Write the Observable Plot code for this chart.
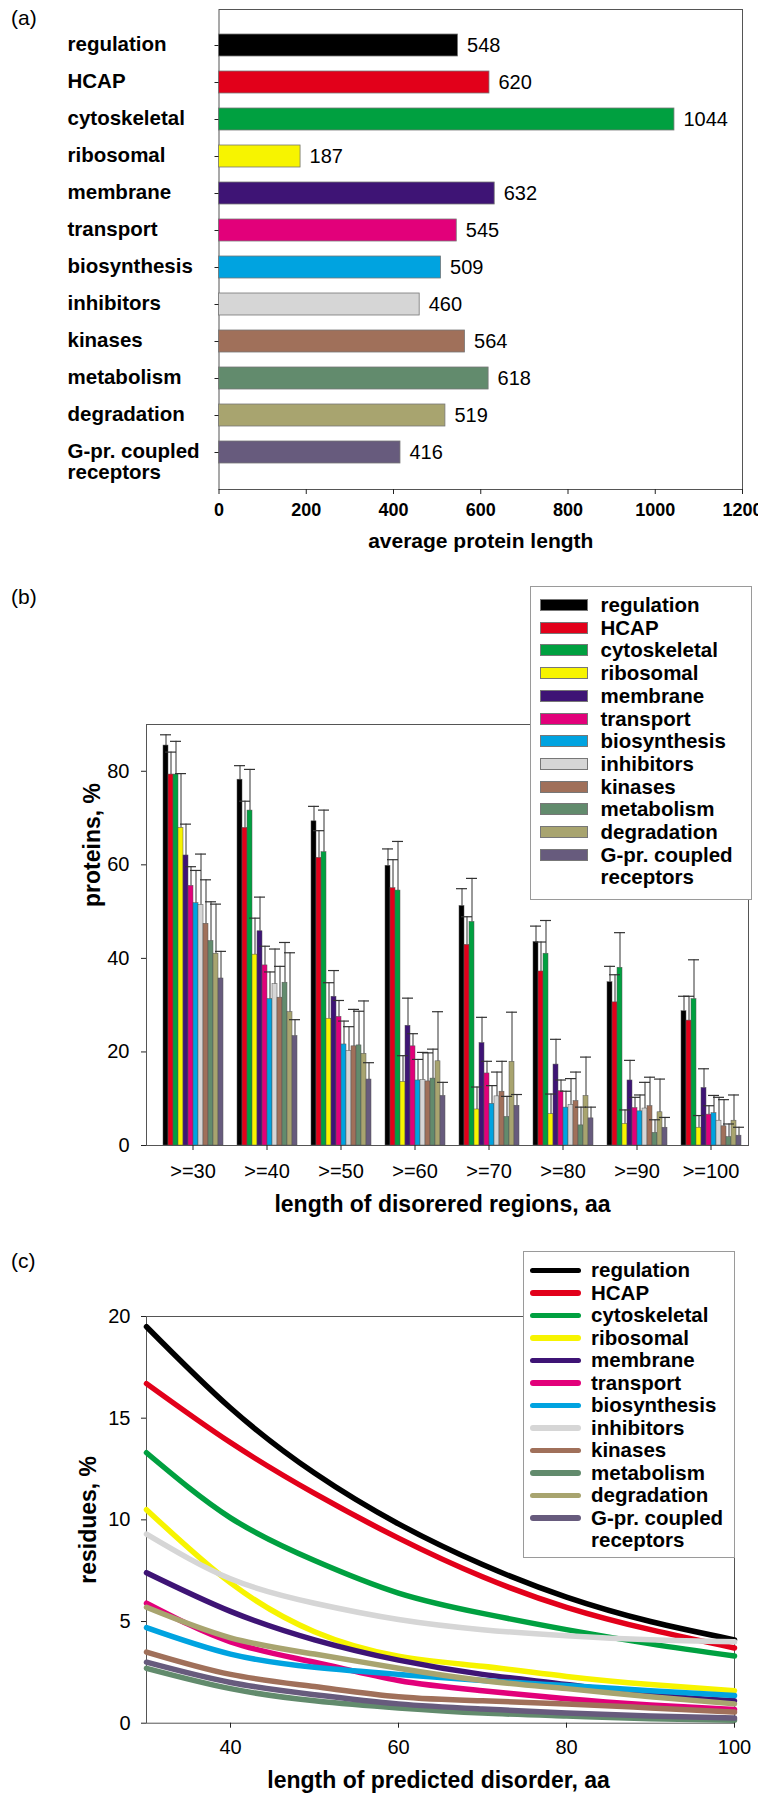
<!DOCTYPE html>
<html><head><meta charset="utf-8">
<script src="https://cdn.jsdelivr.net/npm/d3@7"></script>
<script src="https://cdn.jsdelivr.net/npm/@observablehq/plot@0.6"></script>
<style>
body{margin:0;background:#fff;}
#root{position:relative;width:758px;height:1794px;overflow:hidden;font-family:"Liberation Sans",Arial,sans-serif;color:#000;}
.abs{position:absolute;left:0;}
.plab{position:absolute;left:11px;font-size:21px;line-height:24px;}
.legend{position:absolute;background:#fff;border:1px solid #9a9a9a;box-sizing:border-box;}
.legend .row{position:absolute;height:22px;line-height:22px;font-weight:bold;font-size:20.5px;white-space:nowrap;}
.legend .sw{position:absolute;box-sizing:border-box;}
</style></head><body><div id="root"></div>
<script>
const FONT = '"Liberation Sans", Arial, sans-serif';
// ---- shared categories ----
const categories = ["regulation","HCAP","cytoskeletal","ribosomal","membrane","transport","biosynthesis","inhibitors","kinases","metabolism","degradation","G-pr. coupled receptors"];
const labels = ["regulation","HCAP","cytoskeletal","ribosomal","membrane","transport","biosynthesis","inhibitors","kinases","metabolism","degradation","G-pr. coupled\nreceptors"];
const colors = ["#000000","#e2001a","#00a040","#f7f400","#3e1475","#e2007a","#00a3e0","#d6d6d6","#a0705a","#628b6d","#a8a46f","#675b7d"];
// ---- panel (a) ----
const avgLength = [548,620,1044,187,632,545,509,460,564,618,519,416];
const aTicks = [0,200,400,600,800,1000,1200];
// ---- panel (b) ----
const groups = [">=30",">=40",">=50",">=60",">=70",">=80",">=90",">=100"];
const bValues = [
  [85.5,78.2,69.3,59.8,51.2,43.5,34.9,28.7],
  [79.3,67.9,61.5,55.0,42.9,37.2,30.6,26.7],
  [79.3,71.6,62.7,54.5,47.8,41.0,38.0,31.3],
  [67.9,40.8,27.1,13.6,7.7,6.7,4.6,3.8],
  [62.0,45.8,31.8,25.6,21.9,17.3,13.9,12.3],
  [55.5,38.5,27.5,21.2,15.4,11.6,8.0,6.6],
  [51.8,31.3,21.6,13.9,8.9,8.1,7.3,6.9],
  [51.4,34.5,20.2,14.0,10.5,8.7,7.9,5.3],
  [47.4,31.6,21.2,13.7,11.5,9.5,8.4,4.1],
  [43.7,34.8,21.4,14.3,6.1,4.3,2.7,1.8],
  [41.0,28.5,19.6,18.0,17.9,10.6,7.1,5.3],
  [35.7,23.4,14.1,10.6,8.5,5.8,3.8,2.1]
];
const bErrors = [
  [87.8,81.2,72.5,63.4,54.9,46.9,38.3,31.9],
  [84.1,73.6,67.3,61.1,48.9,43.5,36.5,31.9],
  [86.4,80.4,71.7,65.0,57.1,48.1,45.5,39.7],
  [79.5,48.6,34.8,19.2,12.5,11.0,7.6,6.4],
  [68.7,53.1,37.4,31.5,27.4,22.7,18.2,16.4],
  [59.6,42.6,31.0,23.9,18.0,14.0,10.3,8.5],
  [58.8,37.1,26.6,18.4,12.8,11.6,10.8,10.7],
  [62.3,42.0,25.4,19.9,15.7,14.3,13.5,10.3],
  [56.8,38.3,29.1,19.8,18.0,15.7,14.6,9.8],
  [52.1,43.4,28.7,20.6,10.5,8.2,5.5,4.6],
  [51.6,41.2,30.9,28.6,28.5,18.9,14.2,10.8],
  [41.5,26.9,17.7,13.5,10.9,8.2,6.0,3.9]
];
const bYTicks = [0,20,40,60,80];
// ---- panel (c) ----
const cX = [30,40,50,60,70,80,90,100];
const cValues = [
  [19.5,15.5,12.3,9.8,7.8,6.2,5.0,4.1],
  [16.7,13.8,11.3,9.1,7.2,5.7,4.6,3.7],
  [13.3,10.1,8.0,6.4,5.4,4.6,3.9,3.3],
  [10.5,6.9,4.5,3.3,2.8,2.3,1.9,1.6],
  [7.4,5.5,4.1,3.1,2.4,1.9,1.4,1.1],
  [5.9,4.0,3.0,2.1,1.6,1.2,0.9,0.67],
  [4.7,3.4,2.75,2.4,2.1,1.85,1.6,1.36],
  [9.3,7.1,5.9,5.1,4.6,4.3,4.1,4.0],
  [3.5,2.4,1.8,1.3,1.1,0.95,0.75,0.55],
  [2.7,1.7,1.1,0.75,0.5,0.35,0.22,0.15],
  [5.7,4.2,3.4,2.7,2.1,1.7,1.3,0.95],
  [3.0,2.0,1.4,0.95,0.7,0.5,0.35,0.25]
];
const cXTicks = [40,60,80,100];
const cYTicks = [0,5,10,15,20];

const root = document.getElementById("root");
function place(node, top){
  const d = document.createElement("div");
  d.className = "abs"; d.style.top = top + "px";
  d.appendChild(node); root.appendChild(d); return d;
}
function panelLabel(text, top){
  const d = document.createElement("div"); d.className = "plab"; d.style.top = top + "px"; d.textContent = text; root.appendChild(d);
}
const baseStyle = {fontFamily: FONT, fontSize: "20px", background: "transparent", color: "#222", overflow: "visible"};
const colorScale = {domain: categories, range: colors};
const plain = d => String(d);

// ===== Panel (a) =====
const aData = categories.map((c,i)=>({cat:c, label:labels[i], value:avgLength[i]}));
const plotA = Plot.plot({
  width: 758, height: 560,
  marginLeft: 218.5, marginRight: 16, marginTop: 9, marginBottom: 71,
  style: baseStyle,
  x: {domain: [0,1200]},
  y: {domain: categories, range: [27, 471], paddingInner: 0.4, paddingOuter: 0.2},
  color: colorScale,
  marks: [
    Plot.frame({stroke: "#555"}),
    Plot.barX(aData, {x: "value", y: "cat", fill: "cat", stroke: "#777", strokeWidth: 0.8}),
    Plot.text(aData, {x: "value", y: "cat", text: d => String(d.value), dx: 9, textAnchor: "start", lineAnchor: "middle", fontSize: 20, fill: "#000"}),
    Plot.text(aData, {y: "cat", text: "label", frameAnchor: "left", dx: -151.5, dy: -9, textAnchor: "start", lineAnchor: "top", fontWeight: "bold", fontSize: 20.5, fill: "#000"}),
    Plot.axisX({ticks: aTicks, tickFormat: plain, tickSize: 5, tickPadding: 9, fontWeight: "bold", fontSize: 18, label: null, fill: "#000"}),
    Plot.axisY({tickSize: 4, tickFormat: () => "", label: null}),
    Plot.text(["average protein length"], {text: d => d, frameAnchor: "bottom", lineAnchor: "middle", textAnchor: "middle", dy: 52, fontWeight: "bold", fontSize: 21, fill: "#000"})
  ]
});
place(plotA, 0);
panelLabel("(a)", 6);

// ===== Panel (b) =====
const B_TOP = 700;
const bDims = {width: 758, height: 520, marginLeft: 146, marginRight: 10, marginTop: 24, marginBottom: 75};
const plotBFrame = Plot.plot({
  ...bDims, style: baseStyle,
  y: {domain: [0, 90]},
  marks: [
    Plot.frame({stroke: "#555"}),
    Plot.axisY({ticks: bYTicks, tickFormat: plain, tickSize: 5, tickPadding: 12, fontSize: 20, label: null, fill: "#000"}),
    Plot.text(["proteins, %"], {text: d => d, frameAnchor: "middle", dx: -355, dy: -90, rotate: -90, fontWeight: "bold", fontSize: 23, fill: "#000"}),
    Plot.text(["length of disorered regions, aa"], {text: d => d, frameAnchor: "bottom", textAnchor: "middle", lineAnchor: "middle", dx: -5, dy: 59, fontWeight: "bold", fontSize: 23, fill: "#000"})
  ]
});
place(plotBFrame, B_TOP);
const bData = [];
groups.forEach((g,j) => categories.forEach((c,i) => bData.push({group: g, cat: c, value: bValues[i][j], err: bErrors[i][j]})));
const plotB = Plot.plot({
  ...bDims, style: baseStyle,
  fx: {domain: groups, range: [152, 750], paddingInner: 0.15, paddingOuter: 0.08, label: null},
  x: {domain: categories, padding: 0, axis: null},
  y: {domain: [0, 90], axis: null},
  color: colorScale,
  marks: [
    Plot.barY(bData, {fx: "group", x: "cat", y: "value", fill: "cat", stroke: "#555", strokeWidth: 0.5}),
    Plot.ruleX(bData, {fx: "group", x: "cat", y1: "value", y2: "err", stroke: "#333", strokeWidth: 1}),
    Plot.tickY(bData, {fx: "group", x: "cat", y: "err", stroke: "#333", strokeWidth: 1.2, insetLeft: -3, insetRight: -3}),
    Plot.axisFx({anchor: "bottom", tickSize: 5, tickPadding: 13, fontSize: 20, label: null, fill: "#000"})
  ]
});
place(plotB, B_TOP);
panelLabel("(b)", 585);

function legend(box, kind){
  const L = document.createElement("div"); L.className = "legend";
  Object.assign(L.style, {left: box.left+"px", top: box.top+"px", width: box.width+"px", height: box.height+"px"});
  let row = 0;
  categories.forEach((c,i) => {
    const lines = labels[i].split("\n");
    lines.forEach((t, k) => {
      const cy = box.first + box.step * row;
      const r = document.createElement("div"); r.className = "row";
      r.style.left = box.textX + "px"; r.style.top = (cy - 11) + "px"; r.textContent = t;
      L.appendChild(r);
      if (k === 0) {
        const s = document.createElement("div"); s.className = "sw";
        if (kind === "bar") {
          Object.assign(s.style, {left: box.swX+"px", top: (cy-6)+"px", width: "48px", height: "12px", background: colors[i], border: "1px solid #777"});
        } else {
          Object.assign(s.style, {left: box.swX+"px", top: (cy-2.75)+"px", width: "51px", height: "5.5px", background: colors[i], borderRadius: "3px"});
        }
        L.appendChild(s);
      }
      row++;
    });
  });
  root.appendChild(L);
}
legend({left: 529.5, top: 586, width: 222.5, height: 314, first: 18, step: 22.7, swX: 9, textX: 70}, "bar");

// ===== Panel (c) =====
const C_TOP = 1290;
const cData = [];
categories.forEach((c,i) => cX.forEach((x,j) => cData.push({cat: c, x: x, y: cValues[i][j]})));
const plotC = Plot.plot({
  width: 758, height: 504, marginLeft: 146, marginRight: 24, marginTop: 26, marginBottom: 71.3,
  style: baseStyle,
  x: {domain: [30, 100]},
  y: {domain: [0, 20]},
  color: colorScale,
  marks: [
    Plot.frame({stroke: "#555"}),
    Plot.line(cData, {x: "x", y: "y", z: "cat", stroke: "cat", strokeWidth: 5.5, curve: "natural"}),
    Plot.axisX({ticks: cXTicks, tickFormat: plain, tickSize: 5, tickPadding: 12, fontSize: 20, label: null, fill: "#000"}),
    Plot.axisY({ticks: cYTicks, tickFormat: plain, tickSize: 5, tickPadding: 11, fontSize: 20, label: null, fill: "#000"}),
    Plot.text(["length of predicted disorder, aa"], {text: d => d, frameAnchor: "bottom", textAnchor: "middle", lineAnchor: "middle", dx: -2, dy: 57, fontWeight: "bold", fontSize: 23, fill: "#000"}),
    Plot.text(["residues, %"], {text: d => d, frameAnchor: "middle", dx: -352, dy: 0, rotate: -90, fontWeight: "bold", fontSize: 23, fill: "#000"})
  ]
});
place(plotC, C_TOP);
panelLabel("(c)", 1249);
legend({left: 523, top: 1251, width: 212, height: 307, first: 18.3, step: 22.5, swX: 6, textX: 67}, "line");
</script></body></html>
